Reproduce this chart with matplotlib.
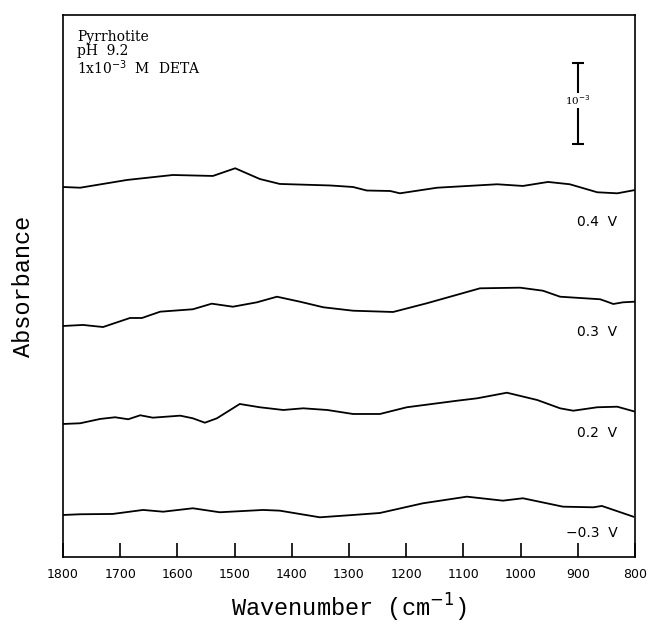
import matplotlib.pyplot as plt
import numpy as np

plt.rcParams.update({"font.size": 10})

# wavenumber (cm-1) and absorbance change (units of 1e-3) for each potential
wn_04 = [1800, 1770, 1688, 1608, 1538, 1499, 1456, 1421, 1333, 1293, 1269,
         1228, 1211, 1146, 1041, 996, 952, 914, 866, 831, 800]
ab_04 = [0, -0.009, 0.088, 0.15, 0.138, 0.234, 0.1, 0.038, 0.019, 0, -0.044,
         -0.05, -0.079, -0.009, 0.034, 0.013, 0.063, 0.034, -0.066, -0.079, -0.038]

wn_03 = [1800, 1765, 1730, 1683, 1662, 1630, 1573, 1540, 1503, 1461, 1426,
         1386, 1345, 1293, 1223, 1164, 1071, 1001, 961, 931, 861, 849, 838, 821, 800]
ab_03 = [0, 0.013, -0.013, 0.1, 0.1, 0.179, 0.209, 0.279, 0.241, 0.296, 0.366,
         0.304, 0.234, 0.191, 0.175, 0.284, 0.471, 0.479, 0.441, 0.366, 0.334,
         0.304, 0.275, 0.296, 0.304]

wn_02 = [1800, 1770, 1735, 1709, 1686, 1665, 1643, 1595, 1573, 1552, 1531,
         1491, 1456, 1415, 1380, 1338, 1293, 1246, 1199, 1111, 1076, 1024, 971,
         931, 908, 866, 831, 800]
ab_02 = [0, 0.009, 0.063, 0.084, 0.059, 0.109, 0.079, 0.104, 0.071, 0.016, 0.071,
         0.25, 0.209, 0.175, 0.196, 0.175, 0.125, 0.125, 0.209, 0.291, 0.321,
         0.391, 0.3, 0.196, 0.166, 0.209, 0.216, 0.154]

wn_m03 = [1800, 1770, 1713, 1660, 1625, 1573, 1526, 1450, 1421, 1351, 1293,
          1246, 1171, 1094, 1031, 996, 926, 873, 858, 803]
ab_m03 = [0, 0.009, 0.013, 0.063, 0.041, 0.084, 0.034, 0.063, 0.054, -0.029, 0,
          0.025, 0.146, 0.229, 0.179, 0.209, 0.104, 0.096, 0.113, -0.021]

labels = ["0.4  V", "0.3  V", "0.2  V", "\u22120.3  V"]

spectra = [(wn_04, ab_04), (wn_03, ab_03), (wn_02, ab_02), (wn_m03, ab_m03)]
offsets = [4.625, 2.8875, 1.6625, 0.525]
label_y = [4.19, 2.81, 1.55, 0.30]

fig = plt.figure(figsize=(6.55, 6.3), dpi=100)
ax = fig.add_axes([0.0962, 0.1159, 0.8733, 0.8603])

for (wn, ab), off, lab, ly in zip(spectra, offsets, labels, label_y):
    ax.plot(wn, np.array(ab) + off, color="black", lw=1.3,
            solid_joinstyle="round")
    ax.text(831, ly, lab, ha="right", va="center", fontsize=10, family="DejaVu Sans")

# scale bar 1e-3
ax.errorbar([900], [5.669], yerr=[0.5065], color="black", lw=1.5,
            capsize=4, capthick=1.5)
ax.text(900, 5.71, "10$^{-3}$", ha="center", va="center", fontsize=7.5,
        family="DejaVu Serif", bbox=dict(facecolor="white", edgecolor="none", pad=0.5))

ax.text(0.0245, 0.960, "Pyrrhotite", transform=ax.transAxes, va="center",
        fontsize=10, family="DejaVu Serif")
ax.text(0.0245, 0.933, "pH  9.2", transform=ax.transAxes, va="center",
        fontsize=10, family="DejaVu Serif")
ax.text(0.0245, 0.902, "1x10$^{-3}$  M  DETA", transform=ax.transAxes, va="center",
        fontsize=10, family="DejaVu Serif")

ax.set_xlim(1800, 800)
ax.set_ylim(0, 6.775)
ax.set_xticks(range(1800, 799, -100))
ax.set_yticks([])
ax.tick_params(axis="x", direction="in", length=10, width=1.2, pad=8, labelsize=9)
for s in ax.spines.values():
    s.set_linewidth(1.2)

ax.set_xlabel("Wavenumber (cm$^{-1}$)", family="Liberation Mono", fontsize=17, labelpad=8)
ax.set_ylabel("Absorbance", family="Liberation Mono", fontsize=17, labelpad=20)

fig.savefig("out.png", dpi=100)
